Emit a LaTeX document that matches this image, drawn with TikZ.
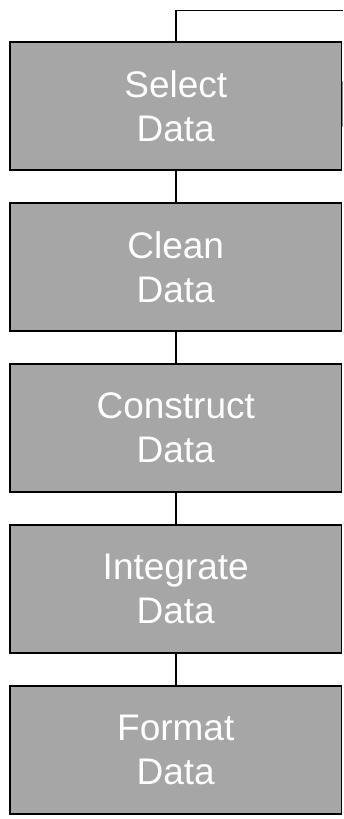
\documentclass[tikz,border=0pt]{standalone}
\usepackage{fontspec}
\setmainfont{Liberation Sans}
\definecolor{stepgray}{RGB}{166,166,166}
\definecolor{edgegray}{RGB}{140,140,140}
\begin{document}
\begin{tikzpicture}[x=1pt,y=1pt,
  stepbox/.style={draw=black, line width=1.5pt, fill=stepgray,
    minimum width=331.5pt, minimum height=128pt, inner sep=0pt,
    align=center, text=white, font=\fontsize{37}{44}\selectfont},
  link/.style={draw=black, line width=1.5pt}]
\useasboundingbox (0,0) rectangle (343,819);
% process steps, top to bottom
\node[stepbox] (select)    at (175.75,713) {Select\\Data};
\node[stepbox] (clean)     at (175.75,552) {Clean\\Data};
\node[stepbox] (construct) at (175.75,391) {Construct\\Data};
\node[stepbox] (integrate) at (175.75,230) {Integrate\\Data};
\node[stepbox] (format)    at (175.75,69)  {Format\\Data};
% links between consecutive steps
\draw[link] (select.south)    -- (clean.north);
\draw[link] (clean.south)     -- (construct.north);
\draw[link] (construct.south) -- (integrate.north);
\draw[link] (integrate.south) -- (format.north);
% incoming line leaving to the right
\coordinate (entry) at (343,808.5);
\draw[link] (select.north) |- (entry);
% lighter stretch on the right border of the first step
\draw[edgegray, line width=1.5pt] ([yshift=-40pt]select.north east) -- ([yshift=-86pt]select.north east);
\end{tikzpicture}
\end{document}
